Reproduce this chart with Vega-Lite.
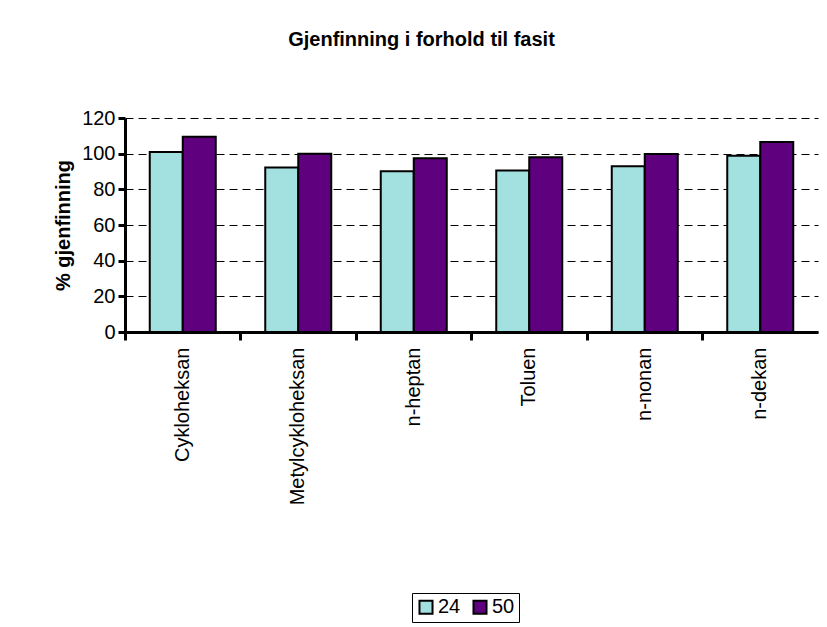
{
  "$schema": "https://vega.github.io/schema/vega-lite/v6.json",
  "width": 693,
  "height": 214,
  "autosize": {"type": "none"},
  "padding": {"left": 125, "top": 118, "right": 9, "bottom": 295},
  "background": "white",
  "title": {"text": "Gjenfinning i forhold til fasit", "font": "Liberation Sans", "fontSize": 20, "fontWeight": "bold", "color": "black", "offset": 58, "anchor": "middle", "dx": -50},
  "data": {"values": [
    {"stoff": "Cykloheksan", "serie": "24", "verdi": 101},
    {"stoff": "Cykloheksan", "serie": "50", "verdi": 109.5},
    {"stoff": "Metylcykloheksan", "serie": "24", "verdi": 92.2},
    {"stoff": "Metylcykloheksan", "serie": "50", "verdi": 100},
    {"stoff": "n-heptan", "serie": "24", "verdi": 90.2},
    {"stoff": "n-heptan", "serie": "50", "verdi": 97.4},
    {"stoff": "Toluen", "serie": "24", "verdi": 90.5},
    {"stoff": "Toluen", "serie": "50", "verdi": 98},
    {"stoff": "n-nonan", "serie": "24", "verdi": 93},
    {"stoff": "n-nonan", "serie": "50", "verdi": 99.8},
    {"stoff": "n-dekan", "serie": "24", "verdi": 98.9},
    {"stoff": "n-dekan", "serie": "50", "verdi": 106.5}
  ]},
  "mark": {"type": "bar", "stroke": "black", "strokeWidth": 2},
  "encoding": {
    "x": {"field": "stoff", "type": "nominal", "sort": null,
      "scale": {"paddingInner": 0, "paddingOuter": 0},
      "axis": {"title": null, "labelAngle": -90, "labelFont": "Liberation Sans", "labelFontSize": 20, "labelColor": "black", "labelPadding": 7,
        "domainColor": "black", "domainWidth": 3, "tickColor": "black", "tickWidth": 3, "tickSize": 8, "bandPosition": 0, "ticks": true, "grid": false, "labelBound": false}},
    "xOffset": {"field": "serie", "type": "nominal", "scale": {"paddingInner": 0, "paddingOuter": 0.75}},
    "y": {"field": "verdi", "type": "quantitative",
      "scale": {"domain": [0, 120], "nice": false},
      "axis": {"title": "% gjenfinning", "titleFont": "Liberation Sans", "titleFontSize": 20, "titleFontWeight": "bold", "titleColor": "black", "titlePadding": 8,
        "values": [0, 20, 40, 60, 80, 100, 120], "labelFont": "Liberation Sans", "labelFontSize": 20, "labelColor": "black", "labelPadding": 3,
        "domainColor": "black", "domainWidth": 3, "tickColor": "black", "tickWidth": 3, "tickSize": 7,
        "grid": true, "gridColor": "black", "gridDash": [8, 5], "gridWidth": 1}},
    "color": {"field": "serie", "type": "nominal",
      "scale": {"domain": ["24", "50"], "range": ["#A3E0E0", "#5F007F"]},
      "legend": {"title": null, "orient": "none", "legendX": 287, "legendY": 475, "direction": "horizontal",
        "symbolType": "square", "symbolSize": 170, "symbolStrokeColor": "black", "symbolStrokeWidth": 2,
        "labelFont": "Liberation Sans", "labelFontSize": 20, "labelColor": "black", "columnPadding": 8, "labelOffset": 2,
        "strokeColor": "black", "padding": 4, "fillColor": "white"}}
  },
  "config": {"view": {"stroke": null}, "axis": {"gridOpacity": 1}}
}
